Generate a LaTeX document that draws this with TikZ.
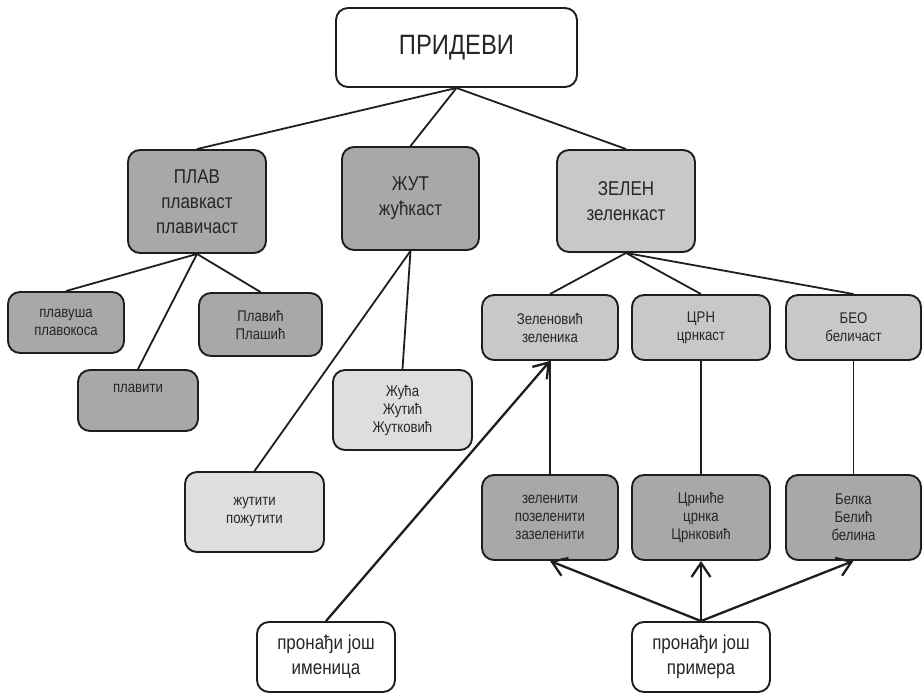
\documentclass[tikz,border=0pt]{standalone}
\usepackage{fontspec}
\setmainfont{Liberation Sans}[FakeStretch=0.85]
\usetikzlibrary{arrows.meta}
\definecolor{gdark}{HTML}{A8A8A8}
\definecolor{gmid}{HTML}{C8C8C8}
\definecolor{glight}{HTML}{DEDEDE}
\definecolor{edge}{HTML}{1E1E1E}
\tikzset{
  box/.style={draw=edge, line width=1.9pt, rounded corners=12pt, align=center,
    inner sep=0pt, text=black!85},
  bdark/.style={box, fill=gdark},
  bmid/.style={box, fill=gmid},
  blight/.style={box, fill=glight},
  bwhite/.style={box, fill=white},
  conn/.style={draw=edge, line width=1.8pt},
  arr/.style={draw=edge, line width=2.3pt,
    -{Straight Barb[length=14pt,width=19pt,line width=2.3pt]}},
  big/.style={font=\fontsize{28}{32}\selectfont},
  mid/.style={font=\fontsize{20}{25}\selectfont},
  sml/.style={font=\fontsize{15.5}{18}\selectfont},
  sz/.style n args={2}{minimum width=#1pt, minimum height=#2pt},
}
\begin{document}
\begin{tikzpicture}[x=1pt,y=-1pt]
\useasboundingbox (0,0) rectangle (922,695);
% top
\node[bwhite, big, sz={241}{79}] (top) at (456.5,47.5) {ПРИДЕВИ};
% level 1
\node[bdark, mid, sz={138}{103}] (plav) at (197,201.5) {ПЛАВ\\плавкаст\\плавичаст};
\node[bdark, mid, sz={137}{103}] (zut) at (410.5,198.5) {\raisebox{-4pt}{ЖУТ}\\\raisebox{-4pt}{жућкаст}};
\node[bmid, mid, sz={138}{102}] (zel) at (626,201) {ЗЕЛЕН\\зеленкаст};
% plav children
\node[bdark, sml, sz={116}{61}] (plavusa) at (66,322.5) {плавуша\\плавокоса};
\node[bdark, sml, sz={123}{63}] (plavic) at (260.5,324.5) {Плавић\\Плашић};
\node[bdark, sml, sz={120}{61}] (plaviti) at (138,400.5) {плавити\\\strut};
% zut children
\node[blight, sml, sz={139}{80}] (zuca) at (402.5,410) {Жућа\\Жутић\\Жутковић};
\node[blight, sml, sz={139}{80}] (zutiti) at (254.5,512) {жутити\\пожутити};
% zelen children
\node[bmid, sml, sz={136}{65}] (zelen) at (550,327.5) {Зеленовић\\зеленика};
\node[bmid, sml, sz={138}{65}] (crn) at (701,327.5) {ЦРН\\црнкаст};
\node[bmid, sml, sz={135}{65}] (beo) at (853.5,327.5) {БЕО\\беличаст};
% lower row
\node[bdark, sml, sz={136}{85}] (zeleniti) at (550,517.5) {зеленити\\позеленити\\зазеленити};
\node[bdark, sml, sz={138}{85}] (crnice) at (701,517.5) {Црниће\\црнка\\Црнковић};
\node[bdark, sml, sz={135}{85}] (belka) at (853.5,517.5) {Белка\\Белић\\белина};
% bottom
\node[bwhite, mid, sz={138}{70}] (imenica) at (326,657) {пронађи још\\именица};
\node[bwhite, mid, sz={138}{70}] (primera) at (701,657) {пронађи још\\примера};
% connectors
\draw[conn] (top.south) -- (plav.north);
\draw[conn] (top.south) -- (zut.north);
\draw[conn] (top.south) -- (zel.north);
\draw[conn] (plav.south) -- (plavusa.north);
\draw[conn] (plav.south) -- (plavic.north);
\draw[conn] (plav.south) -- (plaviti.north);
\draw[conn] (zut.south) -- (zuca.north);
\draw[conn] (zut.south) -- (zutiti.north);
\draw[conn] (zel.south) -- (zelen.north);
\draw[conn] (zel.south) -- (crn.north);
\draw[conn] (zel.south) -- (beo.north);
\draw[conn] (zelen.south) -- (zeleniti.north);
\draw[conn] (crn.south) -- (crnice.north);
\draw[conn] (beo.south) -- (belka.north);
% arrows
\draw[arr] (imenica.north) -- (zelen.south);
\draw[arr] (primera.north) -- (zeleniti.south);
\draw[arr] (primera.north) -- (crnice.south);
\draw[arr] (primera.north) -- (belka.south);
\end{tikzpicture}
\end{document}
